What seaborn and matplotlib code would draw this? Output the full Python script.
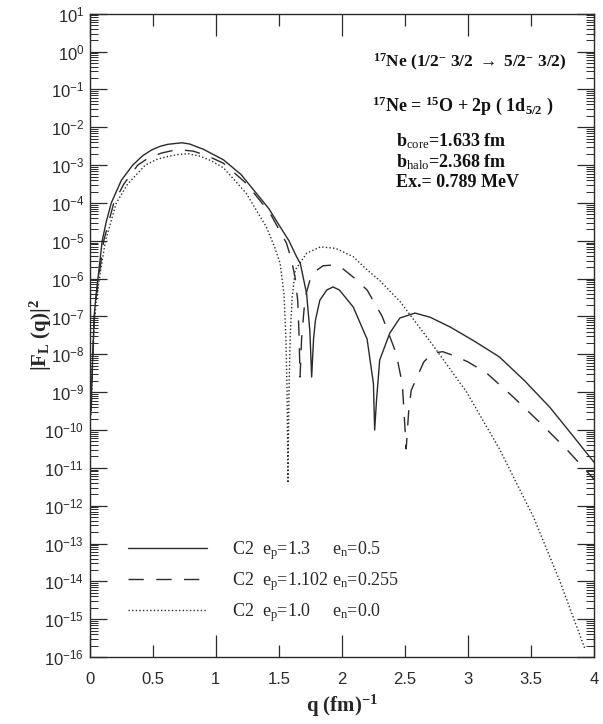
import matplotlib
matplotlib.use("Agg")
import matplotlib.pyplot as plt
from matplotlib.ticker import LogLocator, MultipleLocator, FormatStrFormatter, NullFormatter
import numpy as np
import pandas as pd
import seaborn as sns

# values (q in fm^-1, log10 of |F_L(q)|^2)
q_solid = [0.01, 0.02, 0.034, 0.05, 0.066, 0.098, 0.13, 0.17, 0.25, 0.34, 0.42, 0.49,
           0.56, 0.62, 0.73, 0.79, 0.90, 1.06, 1.20, 1.32, 1.42, 1.51, 1.58, 1.64,
           1.67, 1.72, 1.746, 1.76, 1.775, 1.79, 1.825, 1.88, 1.93, 1.98, 2.09, 2.2,
           2.25, 2.26, 2.275, 2.30, 2.38, 2.46, 2.58, 2.70, 2.86, 3.05, 3.25, 3.45,
           3.65, 3.82, 4.0]
log_solid = [-9.4, -8.3, -7.0, -6.4, -5.95, -5.0, -4.5, -4.0, -3.4, -3.0, -2.75, -2.6,
             -2.5, -2.45, -2.41, -2.44, -2.58, -2.86, -3.25, -3.74, -4.15, -4.63, -5.0, -5.42,
             -5.6, -6.4, -7.4, -8.6, -7.6, -7.1, -6.57, -6.3, -6.22, -6.3, -6.75, -7.6,
             -8.77, -10.0, -9.2, -8.15, -7.44, -7.04, -6.91, -7.02, -7.28, -7.65, -8.07, -8.7,
             -9.4, -10.1, -10.85]

q_dashed = [0.01, 0.02, 0.034, 0.05, 0.07, 0.11, 0.19, 0.27, 0.38, 0.47, 0.57, 0.65,
            0.73, 0.82, 0.93, 1.06, 1.24, 1.43, 1.56, 1.60, 1.63, 1.65, 1.66, 1.668,
            1.68, 1.70, 1.72, 1.75, 1.80, 1.85, 1.93, 2.0, 2.09, 2.2, 2.32, 2.43,
            2.48, 2.51, 2.53, 2.55, 2.65, 2.72, 2.80, 2.90, 3.0, 3.15, 3.36, 3.57,
            3.78, 4.0]
log_dashed = [-9.5, -8.4, -7.1, -6.5, -6.0, -5.0, -4.0, -3.5, -3.0, -2.8, -2.68, -2.62,
              -2.6, -2.63, -2.75, -2.95, -3.48, -4.27, -5.06, -5.5, -6.0, -6.6, -7.5, -8.6,
              -7.6, -6.8, -6.35, -6.0, -5.78, -5.66, -5.64, -5.72, -5.96, -6.3, -7.0, -7.97,
              -8.8, -10.5, -9.5, -8.95, -8.2, -7.97, -7.93, -8.05, -8.2, -8.5, -9.13, -9.8,
              -10.5, -11.3]

q_dotted = [0.01, 0.02, 0.034, 0.05, 0.08, 0.124, 0.21, 0.30, 0.44, 0.53, 0.62, 0.70,
            0.78, 0.87, 0.96, 1.06, 1.24, 1.40, 1.47, 1.51, 1.54, 1.555, 1.565, 1.572,
            1.58, 1.59, 1.605, 1.63, 1.72, 1.83, 1.95, 2.09, 2.2, 2.3, 2.46, 2.72,
            2.99, 3.25, 3.52, 3.73, 3.93]
log_dotted = [-9.6, -8.5, -7.25, -6.6, -5.9, -5.0, -4.0, -3.5, -3.0, -2.85, -2.77, -2.72,
              -2.70, -2.76, -2.88, -3.07, -3.74, -4.63, -5.2, -5.6, -6.4, -7.5, -9.0, -11.4,
              -9.0, -7.5, -6.5, -5.77, -5.33, -5.16, -5.2, -5.42, -5.77, -6.05, -6.6, -7.75,
              -9.0, -10.5, -12.3, -14.0, -15.8]

legend_labels = [r"C2  e$_\mathrm{p}$=1.3", r"C2  e$_\mathrm{p}$=1.102", r"C2  e$_\mathrm{p}$=1.0"]
en_labels = [r"e$_\mathrm{n}$=0.5", r"e$_\mathrm{n}$=0.255", r"e$_\mathrm{n}$=0.0"]

sns.set_style("ticks")
plt.rcParams["font.family"] = ["Liberation Sans", "DejaVu Sans"]
plt.rcParams["mathtext.fontset"] = "custom"
plt.rcParams["mathtext.rm"] = "Liberation Serif"
plt.rcParams["mathtext.it"] = "Liberation Serif:italic"
plt.rcParams["mathtext.bf"] = "Liberation Serif:bold"
plt.rcParams["mathtext.fallback"] = "stix"
plt.rcParams["axes.linewidth"] = 1.0
SERIF = ["Liberation Serif", "DejaVu Serif"]
INK = "#2a2a2a"

fig = plt.figure(figsize=(6.03, 7.24), dpi=100)
ax = fig.add_axes([0.149, 0.0925, 0.836, 0.8885])

curves = [
    (q_solid, log_solid, "-"),
    (q_dashed, log_dashed, (0, (11, 9))),
    (q_dotted, log_dotted, (0, (1, 1.6))),
]
for (q, lg, ls), lab in zip(curves, legend_labels):
    df = pd.DataFrame({"q": q, "F2": np.power(10.0, lg)})
    sns.lineplot(data=df, x="q", y="F2", ax=ax, color=INK, lw=1.0,
                 linestyle=ls, label=lab, sort=False)

ax.set_yscale("log")
ax.set_xlim(0, 4)
ax.set_ylim(1e-16, 1e1)

ax.xaxis.set_major_locator(MultipleLocator(1))
ax.xaxis.set_minor_locator(MultipleLocator(0.5))
ax.xaxis.set_major_formatter(FormatStrFormatter("%g"))
ax.xaxis.set_minor_formatter(FormatStrFormatter("%g"))
ax.yaxis.set_major_locator(LogLocator(base=10, numticks=40))
ax.yaxis.set_minor_locator(LogLocator(base=10, subs=np.arange(2, 10), numticks=40))
ax.yaxis.set_minor_formatter(NullFormatter())

ax.tick_params(axis="x", which="major", direction="in", length=16, width=0.9,
               top=True, bottom=True, labelsize=12, pad=11, colors=INK)
ax.tick_params(axis="x", which="minor", direction="in", length=8.5, width=0.9,
               top=True, bottom=True, labelsize=12, pad=11, colors=INK)
ax.tick_params(axis="y", which="major", direction="in", length=12, width=0.9,
               left=True, right=True, labelsize=12, pad=4, colors=INK)
ax.tick_params(axis="y", which="minor", direction="in", length=6, width=0.7,
               left=True, right=True, colors=INK)
for sp in ax.spines.values():
    sp.set_color(INK)
    sp.set_visible(True)

ax.set_xlabel(r"q (fm)$^{\mathbf{-1}}$", family=SERIF, fontweight="bold", fontsize=15)
ax.set_ylabel(r"|F$_{\mathbf{L}}$ (q)|$^{\mathbf{2}}$", family=SERIF, fontweight="bold", fontsize=15)
ax.xaxis.set_label_coords(0.5, -0.055)
ax.yaxis.set_label_coords(-0.072, 0.5)

leg = ax.legend(loc="upper left", bbox_to_anchor=(0.075, 0.183), frameon=False,
                prop={"family": SERIF, "size": 13}, handlelength=4.4,
                handletextpad=1.4, labelspacing=0.45, borderpad=0, borderaxespad=0)

notes = [
    (0.561, 0.924, 12.5, r"$^{\mathbf{17}}$Ne (1/2$^{\mathbf{-}}$ 3/2 $\rightarrow$ 5/2$^{\mathbf{-}}$ 3/2)"),
    (0.560, 0.857, 13, r"$^{\mathbf{17}}$Ne = $^{\mathbf{15}}$O + 2p ( 1d$_{\mathbf{5/2}}$ )"),
    (0.608, 0.802, 13, r"b$_{\mathrm{core}}$=1.633 fm"),
    (0.608, 0.770, 13, r"b$_{\mathrm{halo}}$=2.368 fm"),
    (0.608, 0.737, 13, "Ex.= 0.789 MeV"),
]
for x, y, fs, s in notes:
    ax.text(x, y, s, transform=ax.transAxes, family=SERIF, fontweight="bold",
            fontsize=fs, va="center", ha="left", color="#111111")

# e_n column aligned with the legend rows (same baseline)
fig.canvas.draw()
inv = ax.transAxes.inverted()
for t, s in zip(leg.get_texts(), en_labels):
    base = t.get_transform().transform(t.get_position())
    y0 = inv.transform(base)[1]
    ax.text(0.48, y0, s, transform=ax.transAxes, family=SERIF, fontsize=13,
            va="baseline", ha="left", color=INK)

fig.savefig("out.png", dpi=100)
